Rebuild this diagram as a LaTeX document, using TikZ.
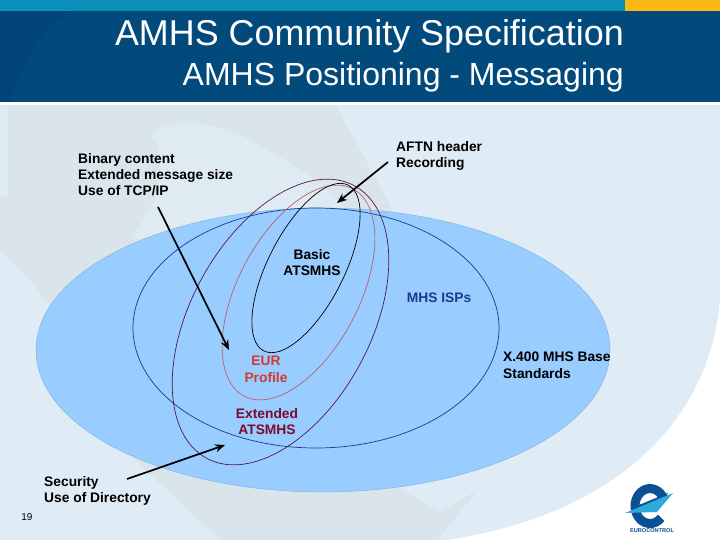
\documentclass[tikz,border=0pt]{standalone}
\usepackage{fontspec}
\setmainfont{Liberation Sans}
\usetikzlibrary{arrows.meta}
\definecolor{paleblue}{HTML}{DFECF5}
\definecolor{palegrey}{HTML}{D9E5EB}
\definecolor{palelight}{HTML}{DFEBF2}
\definecolor{stripteal}{HTML}{0A8FB8}
\definecolor{stripgold}{HTML}{FDB913}
\definecolor{headnavy}{HTML}{02457A}
\definecolor{headsoft}{HTML}{034A7C}
\definecolor{basefill}{HTML}{99CCFF}
\definecolor{baseline}{HTML}{7FB2DA}
\definecolor{ispblue}{HTML}{1B3A8C}
\definecolor{extdark}{HTML}{5A1448}
\definecolor{extred}{HTML}{7A0C2E}
\definecolor{eurred}{HTML}{B8626A}
\definecolor{eurtext}{HTML}{D23A30}
\definecolor{logoblue}{HTML}{0B4F94}
\definecolor{logocyan}{HTML}{2FA8DC}
\tikzset{
  titletext/.style={text=white,anchor=base east,inner sep=0pt},
  lbl/.style={font=\fontsize{13.8}{16.4}\selectfont\bfseries,align=left,inner sep=0pt},
  callout/.style={-{Stealth[length=10pt,width=8pt]},line width=1.7pt,black},
}
\begin{document}
\begin{tikzpicture}[x=1pt,y=-1pt]
\useasboundingbox (0,0) rectangle (720,540);
% background
\fill[white] (0,0) rectangle (720,540);
\fill[paleblue] (0,0) -- (720,0) -- (720,300) .. controls (712,400) and (640,510) .. (447,540) -- (0,540) -- cycle;
\fill[palegrey] (8,105) -- (335,105) .. controls (355,140) and (380,185) .. (396,218) -- (60,320) -- (32,283) -- (0,250) -- (0,197) -- (8,197) -- cycle;
\fill[palelight] (150,135) .. controls (165,120) and (200,118) .. (240,135) .. controls (280,155) and (320,180) .. (345,208) -- (130,240) .. controls (160,200) and (170,160) .. (150,135) -- cycle;
\fill[palegrey] (130,455) -- (220,540) -- (437,540) -- (478,490) -- (440,512) -- (397,487) -- cycle;
% header
\fill[headnavy] (0,11) rectangle (720,102);
\fill[headsoft] (12,102) .. controls (20,60) and (40,30) .. (75,11) -- (720,11) -- (720,102) -- cycle;
\fill[stripteal] (0,0) rectangle (625,11);
\fill[stripgold] (625,0) rectangle (720,11);
\fill[white] (0,102) rectangle (720,105);
\node[titletext,font=\fontsize{35.9}{40}\selectfont] (title) at (624,46) {AMHS Community Specification};
\node[titletext,font=\fontsize{32}{36}\selectfont] (subtitle) at (624,86) {AMHS Positioning - Messaging};
% ellipses
\draw[fill=basefill,draw=baseline] (323,350) ellipse [x radius=287,y radius=142];
\draw[ispblue,line width=0.7pt] (316,328) ellipse [x radius=183,y radius=120];
\draw[extdark,line width=0.7pt] (280.5,322) ellipse [x radius=155,y radius=90,rotate=61.5];
\draw[eurred,line width=0.7pt] (298.5,292.5) ellipse [x radius=117,y radius=60.6,rotate=62.3];
\draw[black,line width=0.7pt] (306,268) ellipse [x radius=93,y radius=38,rotate=63];
% labels
\node[lbl,anchor=north west] (binary) at (78,153) {Binary content\\Extended message size\\Use of TCP/IP};
\node[lbl,anchor=north west] (aftn) at (396,141) {AFTN header\\Recording};
\node[lbl,align=center,anchor=north] (basic) at (312,249) {Basic\\ATSMHS};
\node[lbl,anchor=center,text=ispblue] (isps) at (439,298) {MHS ISPs};
\node[lbl,align=center,anchor=north,text=eurtext] (eur) at (266,356) {EUR\\Profile};
\node[lbl,align=center,anchor=north,text=extred] (ext) at (267,408) {Extended\\ATSMHS};
\node[lbl,anchor=north west] (x400) at (503,352) {X.400 MHS Base\\Standards};
\node[lbl,anchor=north west] (sec) at (44,476) {Security\\Use of Directory};
\node[font=\fontsize{10}{12}\selectfont] (pagenum) at (27,517) {19};
% callouts
\coordinate (binarytail) at (158,207);
\coordinate (binaryhead) at (229,350);
\coordinate (aftntail) at (388,162);
\coordinate (aftnhead) at (337,203);
\coordinate (sectail) at (127,479);
\coordinate (sechead) at (225,445);
\draw[callout] (binarytail) -- (binaryhead);
\draw[callout] (aftntail) -- (aftnhead);
\draw[callout] (sectail) -- (sechead);
% logo
\draw[logoblue,line width=9pt] (650,505) ++(-25:15) arc [start angle=-25,end angle=-318,x radius=15,y radius=17.5];
\fill[logoblue] (634,507) -- (668,493) -- (660,506) -- (636,514) -- cycle;
\fill[logocyan] (625,513) -- (673,493) -- (657,512) -- cycle;
\node[font=\fontsize{5.6}{6}\selectfont\bfseries,text=logoblue] (logotext) at (652,531) {EUROCONTROL};
\end{tikzpicture}
\end{document}
